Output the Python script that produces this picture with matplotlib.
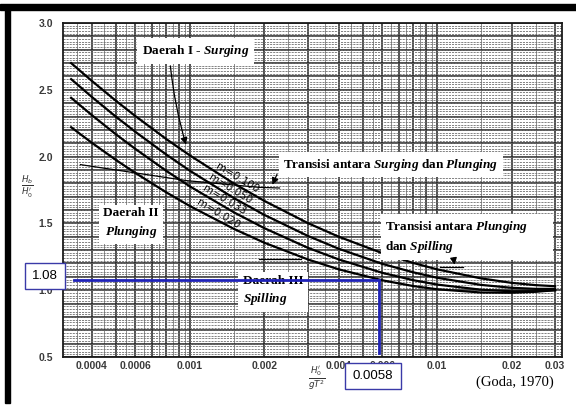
import numpy as np
import matplotlib
matplotlib.use("Agg")
import matplotlib.pyplot as plt
from matplotlib.patches import Rectangle

plt.rcParams["mathtext.fontset"] = "custom"
plt.rcParams["mathtext.it"] = "Liberation Serif:italic:bold"
plt.rcParams["mathtext.rm"] = "Liberation Serif:bold"

# Data (Goda, 1970)
x_pts = [0.00033, 0.0004, 0.0005, 0.0006, 0.0008, 0.001, 0.0015, 0.002,
         0.003, 0.004, 0.006, 0.008, 0.01, 0.015, 0.02, 0.025, 0.03]
m_100 = [2.700, 2.567, 2.419, 2.304, 2.132, 2.008, 1.800, 1.668,
         1.502, 1.400, 1.277, 1.204, 1.156, 1.089, 1.055, 1.038, 1.030]
m_050 = [2.580, 2.447, 2.300, 2.186, 2.016, 1.893, 1.691, 1.563,
         1.406, 1.310, 1.197, 1.134, 1.093, 1.040, 1.018, 1.010, 1.010]
m_033 = [2.440, 2.311, 2.168, 2.058, 1.894, 1.776, 1.584, 1.464,
         1.317, 1.230, 1.130, 1.075, 1.042, 1.004, 0.992, 0.993, 1.000]
m_020 = [2.220, 2.104, 1.976, 1.878, 1.733, 1.629, 1.460, 1.355,
         1.230, 1.156, 1.074, 1.031, 1.007, 0.983, 0.981, 0.988, 1.000]
curve_names = ["m=0.100", "m=0.050", "m=0.033", "m=0.020"]
label_x = [0.00155, 0.00145, 0.00137, 0.00130]
label_y = [1.840, 1.762, 1.679, 1.571]

# thin transition lines
trans_a_x = [0.00036, 0.00097, 0.0019, 0.0023]
trans_a_y = [1.94, 1.82, 1.77, 1.765]
trans_b1_x = [0.0019, 0.0028]
trans_b1_y = [1.23, 1.23]
trans_b2_x = [0.0103, 0.0127]
trans_b2_y = [1.17, 1.17]

# example reading
read_x = 0.0058
read_y = 1.08
read_start_x = 0.00034
read_bottom_y = 0.53

x_ticks = [0.0004, 0.0006, 0.001, 0.002, 0.004, 0.006, 0.01, 0.02, 0.03]
x_tick_labels = ["0.0004", "0.0006", "0.001", "0.002", "0.004", "0.006", "0.01", "0.02", "0.03"]
y_ticks = [0.5, 1.0, 1.5, 2.0, 2.5, 3.0]
y_tick_labels = ["0.5", "1.0", "1.5", "2.0", "2.5", "3.0"]

serif = "Liberation Serif"
sans = "Liberation Sans"
blue = "#1f22b8"

fig = plt.figure(figsize=(5.76, 4.05), dpi=100)
ax = fig.add_axes([0.1094, 0.1185, 0.8663, 0.8247])
ax.set_xscale("log")
ax.set_xlim(0.000306, 0.032)
ax.set_ylim(0.5, 3.0)

# graph paper grid
major_x = []
minor_x = []
for dec in [1e-4, 1e-3, 1e-2]:
    for k in range(1, 10):
        major_x.append(k * dec)
        minor_x.append((k + 0.5) * dec)
for xv in major_x:
    ax.axvline(xv, color="#222222", lw=1.1, zorder=1)
for xv in minor_x:
    ax.axvline(xv, color="#7a7a7a", lw=0.6, zorder=1)
for yv in np.arange(0.5, 3.01, 0.1):
    ax.axhline(yv, color="#222222", lw=1.1, zorder=1)
for yv in np.arange(0.5, 3.0, 0.02):
    ax.axhline(yv, color="#6e6e6e", lw=0.6, ls=(0, (2.5, 1.2)), zorder=1)

# curves
for ys in [m_100, m_050, m_033, m_020]:
    ax.plot(x_pts, ys, color="black", lw=1.6, zorder=4)
for name, lx, ly in zip(curve_names, label_x, label_y):
    ax.text(lx, ly, name, rotation=-31, fontsize=7.5, ha="center", va="center",
            family="DejaVu Sans", zorder=5)

ax.plot(trans_a_x, trans_a_y, color="black", lw=0.9, zorder=4)
ax.plot(trans_b1_x, trans_b1_y, color="black", lw=0.9, zorder=4)
ax.plot(trans_b2_x, trans_b2_y, color="black", lw=0.9, zorder=4)

white_box = dict(boxstyle="square,pad=0.35", fc="white", ec="none")

ax.text(0.00105, 2.79, "Daerah I - $\\it{Surging}$", family=serif, fontsize=9.5,
        fontweight="bold", ha="center", va="center", bbox=white_box, zorder=6)
ax.annotate("", xy=(0.00097, 2.07), xytext=(0.00083, 2.70),
            arrowprops=dict(arrowstyle="-|>", color="black", lw=0.9,
                            connectionstyle="arc3,rad=0.05"), zorder=6)

ax.text(0.00238, 1.94, "Transisi antara $\\it{Surging}$ dan $\\it{Plunging}$",
        family=serif, fontsize=9.5, fontweight="bold", ha="left", va="center",
        bbox=white_box, zorder=6)
ax.annotate("", xy=(0.00213, 1.77), xytext=(0.00227, 1.885),
            arrowprops=dict(arrowstyle="-|>", color="black", lw=0.9), zorder=6)

ax.text(0.000577, 1.50, "Daerah II\n$\\it{Plunging}$", family=serif, fontsize=9.5,
        fontweight="bold", ha="center", va="center", bbox=white_box, zorder=6,
        linespacing=1.4)

ax.text(0.00163, 0.994, "Daerah III\n$\\it{Spilling}$", family=serif, fontsize=9.5,
        fontweight="bold", ha="left", va="center", bbox=white_box, zorder=6,
        linespacing=1.4)

ax.text(0.00616, 1.40, "Transisi antara $\\it{Plunging}$       \ndan $\\it{Spilling}$",
        family=serif, fontsize=9.5, fontweight="bold", ha="left", va="center",
        bbox=white_box, zorder=6, linespacing=1.4)
ax.annotate("", xy=(0.0118, 1.17), xytext=(0.0116, 1.26),
            arrowprops=dict(arrowstyle="-|>", color="black", lw=0.9), zorder=6)

# reading lines
ax.plot([read_start_x, read_x], [read_y, read_y], color=blue, lw=2, zorder=7)
ax.plot([read_x, read_x], [read_y, read_bottom_y], color=blue, lw=2, zorder=7)

ax.set_xticks(x_ticks)
ax.set_xticklabels(x_tick_labels)
ax.xaxis.set_minor_locator(matplotlib.ticker.NullLocator())
ax.set_yticks(y_ticks)
ax.set_yticklabels(y_tick_labels)
ax.tick_params(length=0, labelsize=7.5, labelcolor="#3a3a3a")
ax.tick_params(axis="x", pad=3)
ax.tick_params(axis="y", pad=7)
for lbl in ax.get_xticklabels() + ax.get_yticklabels():
    lbl.set_fontweight("bold")
    lbl.set_family(sans)
for sp in ax.spines.values():
    sp.set_linewidth(1.3)
    sp.set_color("#1a1a1a")

# value boxes
box_blue = dict(boxstyle="square,pad=0.55", fc="white", ec="#3a3aa8", lw=1)
fig.text(45 / 576, 1 - 276 / 405, "1.08", family=sans, fontsize=9.5,
         ha="center", va="center", bbox=box_blue, zorder=8)
fig.text(373 / 576, 1 - 376 / 405, "0.0058", family=sans, fontsize=9.5,
         ha="center", va="center", bbox=box_blue, zorder=8)

# axis labels
fig.text(27 / 576, 1 - 187 / 405, r"$\frac{H_b}{H_0^{\prime}}$", fontsize=9,
         ha="center", va="center", color="#333333", math_fontfamily="dejavusans")
fig.text(317 / 576, 1 - 378 / 405, r"$\frac{H_0^{\prime}}{gT^2}$", fontsize=9,
         ha="center", va="center", color="#333333", math_fontfamily="dejavusans")
fig.text(515 / 576, 1 - 382 / 405, "(Goda, 1970)", family=serif, fontsize=10.5,
         ha="center", va="center")

# scan frame
fig.patches.append(Rectangle((0, 1 - 10 / 405), 1, 6 / 405, transform=fig.transFigure,
                             color="black", zorder=0))
fig.patches.append(Rectangle((5 / 576, 2 / 405), 5 / 576, 393 / 405,
                             transform=fig.transFigure, color="black", zorder=0))

fig.savefig("out.png", dpi=100)
